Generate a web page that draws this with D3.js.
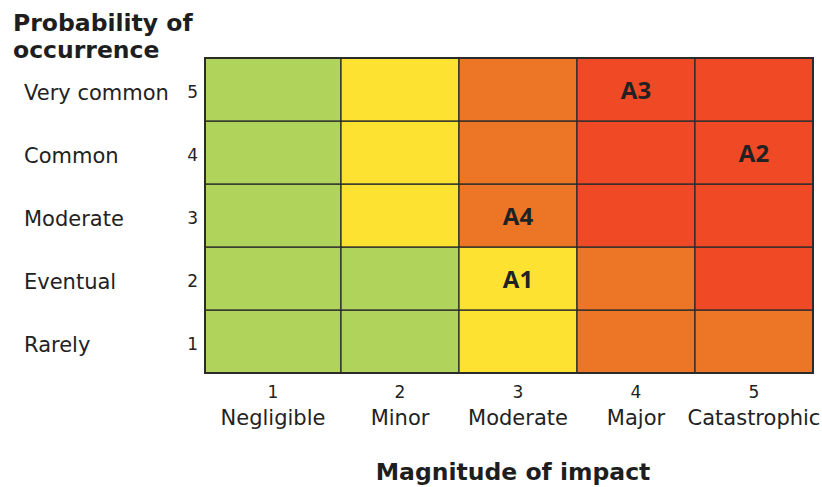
<!DOCTYPE html>
<html><head><meta charset="utf-8">
<script src="https://cdn.jsdelivr.net/npm/d3@7"></script>
<style>body{margin:0;background:#fff}svg{display:block}</style>
</head><body>
<svg id="c" width="822" height="487"></svg>
<script>
const impactLevels = [1, 2, 3, 4, 5];
const impactLabels = ["Negligible", "Minor", "Moderate", "Major", "Catastrophic"];
const probLevels = [1, 2, 3, 4, 5];
const probLabels = ["Rarely", "Eventual", "Moderate", "Common", "Very common"];
// risk class per probability row (1..5), columns = impact 1..5
const riskRow1 = ["low", "low", "medium", "high", "high"];
const riskRow2 = ["low", "low", "medium", "high", "extreme"];
const riskRow3 = ["low", "medium", "high", "extreme", "extreme"];
const riskRow4 = ["low", "medium", "high", "extreme", "extreme"];
const riskRow5 = ["low", "medium", "high", "extreme", "extreme"];
const riskClasses = ["low", "medium", "high", "extreme"];
const riskColors = ["#afd35b", "#fde232", "#ec7626", "#ef4a25"];
const itemNames = ["A1", "A2", "A3", "A4"];
const itemImpact = [3, 5, 4, 3];
const itemProb = [2, 4, 5, 3];

const rows = [riskRow1, riskRow2, riskRow3, riskRow4, riskRow5];
const svg = d3.select("#c");
const color = d3.scaleOrdinal().domain(riskClasses).range(riskColors);

const x = d3.scaleLinear().domain([0.5, 1.5, 5.5]).range([205, 341, 813]);
const y = d3.scaleLinear().domain([0.5, 5.5]).range([373, 58]);

const cells = [];
rows.forEach((r, pi) => r.forEach((c, ii) => cells.push({p: probLevels[pi], i: impactLevels[ii], c})));

svg.append("g").selectAll("rect").data(cells).join("rect")
  .attr("x", d => x(d.i - 0.5)).attr("y", d => y(d.p + 0.5))
  .attr("width", d => x(d.i + 0.5) - x(d.i - 0.5))
  .attr("height", d => y(d.p - 0.5) - y(d.p + 0.5))
  .attr("fill", d => color(d.c))
  .attr("stroke", "#2b2b2b").attr("stroke-width", 1.3);

svg.append("rect").attr("x", x(0.5)).attr("y", y(5.5))
  .attr("width", x(5.5) - x(0.5)).attr("height", y(0.5) - y(5.5))
  .attr("fill", "none").attr("stroke", "#2b2b2b").attr("stroke-width", 2);

svg.append("g").selectAll("text").data(itemNames).join("text")
  .attr("x", (d, k) => x(itemImpact[k])).attr("y", (d, k) => y(itemProb[k]) + 9.5)
  .attr("text-anchor", "middle")
  .attr("font-family", "'Open Sans', sans-serif").attr("font-weight", 700)
  .attr("font-size", 24).attr("fill", "#222").text(d => d);

const font = "'DejaVu Sans', sans-serif";
// x axis
const gx = svg.append("g").attr("font-family", font).attr("fill", "#222");
gx.selectAll("text.n").data(impactLevels).join("text").attr("class", "n")
  .attr("x", d => x(d)).attr("y", 398).attr("text-anchor", "middle")
  .attr("font-size", 17).text(d => d);
gx.selectAll("text.l").data(impactLabels).join("text").attr("class", "l")
  .attr("x", (d, k) => x(impactLevels[k])).attr("y", 425).attr("text-anchor", "middle")
  .attr("font-size", 21).text(d => d);

// y axis
const gy = svg.append("g").attr("font-family", font).attr("fill", "#222");
gy.selectAll("text.n").data(probLevels).join("text").attr("class", "n")
  .attr("x", 198).attr("y", d => y(d) + 8).attr("text-anchor", "end")
  .attr("font-size", 17).text(d => d);
gy.selectAll("text.l").data(probLabels).join("text").attr("class", "l")
  .attr("x", 24).attr("y", (d, k) => y(probLevels[k]) + 10).attr("text-anchor", "start")
  .attr("font-size", 21).text(d => d);

// titles
svg.append("text").attr("x", 13).attr("y", 31).attr("font-family", font)
  .attr("font-weight", "bold").attr("font-size", 23.5).attr("fill", "#1e1e1e")
  .selectAll("tspan").data(["Probability of", "occurrence"]).join("tspan")
  .attr("x", 13).attr("dy", (d, k) => k ? 27 : 0).text(d => d);
svg.append("text").attr("x", 513).attr("y", 480).attr("text-anchor", "middle")
  .attr("font-family", font).attr("font-weight", "bold").attr("font-size", 23.5)
  .attr("fill", "#1e1e1e").text("Magnitude of impact");
</script>
</body></html>
